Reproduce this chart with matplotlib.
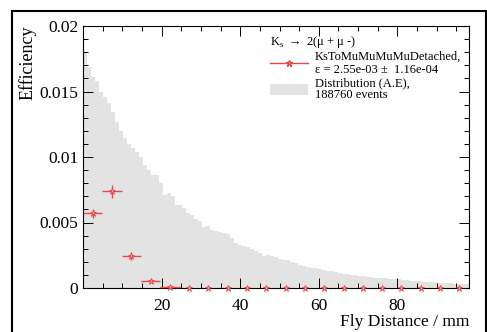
import numpy as np
import matplotlib
matplotlib.use("Agg")
import matplotlib.pyplot as plt
from matplotlib.patches import Rectangle, Patch
from matplotlib.ticker import MultipleLocator

plt.rcParams['font.family'] = ['Liberation Serif', 'DejaVu Serif']
plt.rcParams['mathtext.fontset'] = 'custom'
plt.rcParams['mathtext.rm'] = 'Liberation Serif'

# fine-binned fly distance distribution (arbitrary, scaled to efficiency axis)
dist_vals = [0.0180, 0.0169, 0.0161, 0.0158, 0.0150, 0.01455, 0.0141, 0.01346, 0.0127, 0.0120,
             0.01142, 0.0110, 0.01066, 0.0104, 0.00997, 0.00939, 0.0090, 0.00863, 0.0086, 0.0080,
             0.0071, 0.00723, 0.0070, 0.00634, 0.0063, 0.0061, 0.00575, 0.00557, 0.0053, 0.0051,
             0.00468, 0.00476, 0.0044, 0.00435, 0.0043, 0.0042, 0.0041, 0.0038, 0.0034, 0.0033,
             0.0032, 0.0031, 0.00295, 0.00285, 0.00265, 0.00245, 0.0025, 0.00245, 0.00234, 0.0022,
             0.0021, 0.00214, 0.0020, 0.0019, 0.00176, 0.0017, 0.00163, 0.00155, 0.0015, 0.00143,
             0.00137, 0.00132, 0.0013, 0.0012, 0.00112, 0.00107, 0.00107, 0.0010, 0.00097, 0.00092,
             0.0009, 0.00087, 0.00081, 0.0008, 0.00079, 0.00076, 0.00074, 0.0007, 0.00066, 0.00066,
             0.0006, 0.00058, 0.00056, 0.0005, 0.0005, 0.00048, 0.00046, 0.00043, 0.00043, 0.0004,
             0.00038, 0.00036, 0.00035, 0.00033, 0.0003, 0.0003, 0.00028]

# efficiency per coarse bin
eff = [0.0057, 0.0074, 0.00247, 0.00056, 0.0001, 0, 0, 0, 0, 0,
       0, 0, 0, 0, 0, 0, 0, 0, 0, 0]
eff_err = [0.00035, 0.0005, 0.0003, 0.0001, 0.00005, 0, 0, 0, 0, 0,
           0, 0, 0, 0, 0, 0, 0, 0, 0, 0]

x_max = 98.2
red = '#e8484a'

fig = plt.figure(figsize=(4.87, 3.32), dpi=100)
ax = fig.add_axes([83/487, 44/332, 386/487, 262/332])

fine_edges = np.linspace(0, x_max, len(dist_vals) + 1)
ax.stairs(dist_vals, fine_edges, fill=True, color='#e3e3e3', zorder=1)

edges = np.linspace(0, x_max, len(eff) + 1)
centers = 0.5 * (edges[:-1] + edges[1:])
half = 0.5 * np.diff(edges)
eff = np.array(eff)
xerr = np.where(eff > 0, half, 0)
ax.errorbar(centers, eff, yerr=eff_err, xerr=xerr, fmt='*', color=red,
            ms=5, mfc='#f3a0a0', mec=red, mew=0.6, elinewidth=1.0, capsize=0,
            zorder=3, clip_on=False)

ax.set_xlim(0, x_max)
ax.set_ylim(0, 0.02)
ax.xaxis.set_major_locator(MultipleLocator(20))
ax.xaxis.set_minor_locator(MultipleLocator(5))
ax.yaxis.set_major_locator(MultipleLocator(0.005))
ax.yaxis.set_minor_locator(MultipleLocator(0.001))
ax.set_xticks([20, 40, 60, 80])
ax.set_yticks([0, 0.005, 0.01, 0.015, 0.02])
ax.set_yticklabels(['0', '0.005', '0.01', '0.015', '0.02'])
ax.tick_params(which='both', direction='in', top=True, right=True, labelsize=12.5, width=0.7)
ax.tick_params(which='major', length=7, pad=3.5)
ax.tick_params(which='minor', length=3.5)
ax.tick_params(axis='x', pad=7)
for s in ax.spines.values():
    s.set_linewidth(0.8)

ax.set_xlabel('Fly Distance / mm', fontsize=12.5, loc='right', labelpad=0)
ax.set_ylabel('Efficiency', fontsize=13, loc='top', labelpad=0)
ax.yaxis.set_label_coords(-0.12, 1.0)

handles = [
    plt.Line2D([], [], color=red, marker='*', ms=5, mfc='#f3a0a0', lw=1.0),
    Patch(facecolor='#e3e3e3', edgecolor='none'),
]
labels = ['KsToMuMuMuMuDetached,\n\u03b5 = 2.55e-03 \u00b1  1.16e-04',
          'Distribution (A.E),\n188760 events']
leg = ax.legend(handles, labels,
                title='K$_\\mathregular{s}$ $\\rightarrow$ 2(\u03bc + \u03bc -)',
                loc='upper left', bbox_to_anchor=(0.462, 1.003), frameon=False,
                fontsize=9, title_fontsize=9, alignment='left',
                handlelength=3.0, handleheight=1.0, handletextpad=0.6,
                labelspacing=0.1, borderpad=0.2)
for t in leg.get_texts():
    t.set_linespacing(1.05)

# outer canvas frame
fig.add_artist(Rectangle((11.5/487, -0.1), (486 - 11.5)/487, 1.1 - 11.5/332,
                         transform=fig.transFigure, fill=False, lw=1.5, ec='black'))

fig.savefig('out.png', dpi=100)
